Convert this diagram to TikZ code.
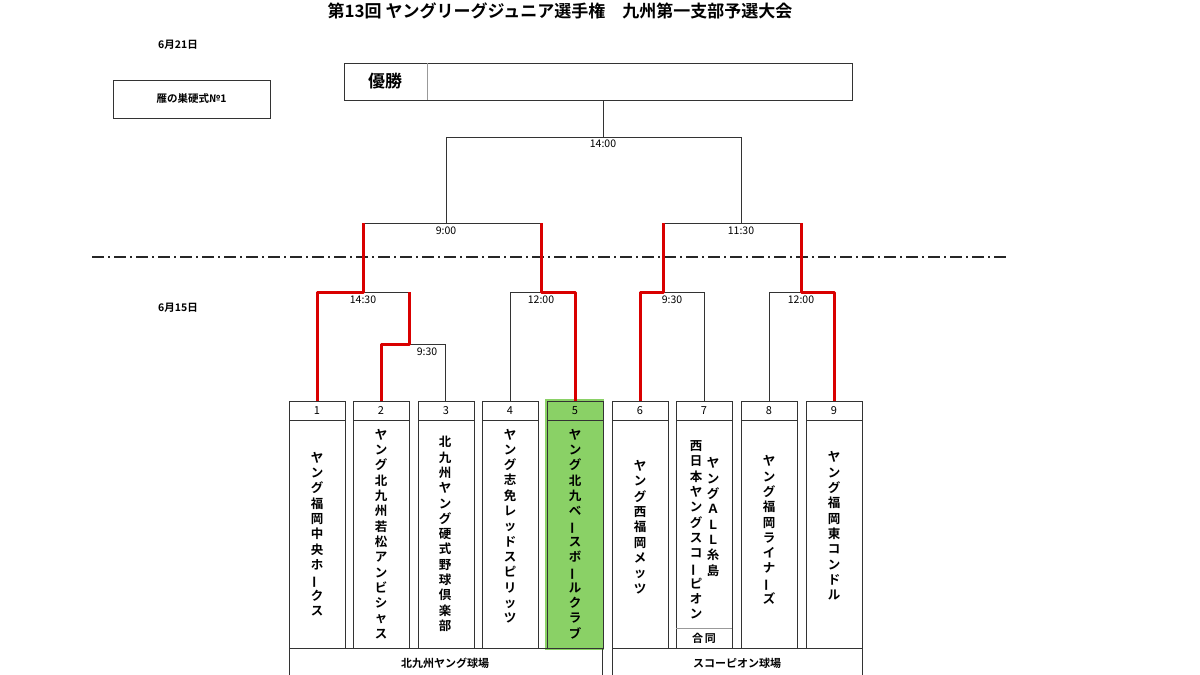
\documentclass[tikz,border=0pt]{standalone}
\usepackage{fontspec}
\usepackage{graphicx}
\setmainfont{Noto Sans CJK JP}
\newfontfamily\jpb{Noto Sans CJK JP Bold}
\newcommand{\vbarx}{\rotatebox[origin=c]{90}{ー}}
\tikzset{
 ln/.style={draw=black!80,line width=0.9pt},
 win/.style={draw=red!85!black,line width=3pt,line join=round},
 vt/.style={align=center,font=\jpb\fontsize{12.5}{15.3}\selectfont,inner sep=0pt},
 tm/.style={font=\fontsize{10.5}{12}\selectfont,inner sep=1pt},
}
\begin{document}
\begin{tikzpicture}[x=1pt,y=-1pt]
\useasboundingbox (0,0) rectangle (1200,675);
\fill[white] (0,0) rectangle (1200,675);
\node[font=\jpb\fontsize{17}{20}\selectfont] (title) at (560,11) {第13回 ヤングリーグジュニア選手権\quad 九州第一支部予選大会};
\node[font=\jpb\fontsize{10.5}{12}\selectfont] (d1) at (178,45) {6月21日};
\node[font=\jpb\fontsize{10.5}{12}\selectfont] (d2) at (178,308) {6月15日};
\draw[ln] (113,80) rectangle (270,118);
\node[font=\jpb\fontsize{10.5}{12}\selectfont] (field) at (191.5,99) {雁の巣硬式№1};
\draw[ln] (344,63) rectangle (852,100);
\draw[black!40,line width=0.6pt] (427,63) -- (427,100);
\node[font=\jpb\fontsize{17}{20}\selectfont] (champ) at (385,81.5) {優勝};
\draw[black!85,line width=1.2pt,dash pattern=on 12pt off 4pt on 2pt off 4pt] (92,257) -- (1008,257);
% green highlight
\fill[green!55!lime!70!black!60!white] (545,399) rectangle (604,650);
% team boxes
\foreach \x/\n in {289/1,353/2,418/3,482/4,547/5,612/6,676/7,741/8,806/9}{
  \draw[ln] (\x,401) rectangle ++(56,19);
  \draw[ln] (\x,420) rectangle ++(56,228);
  \node[font=\fontsize{11}{12}\selectfont] (n\n) at (\x+28,410.5) {\n};
}
\draw[black!40,line width=0.6pt] (676,628) -- (732,628);
\node[font=\jpb\fontsize{11}{12}\selectfont] (gd) at (704,638) {合\,同};
\draw[ln] (289,648) -- (289,675) (602,648) -- (602,675) (289,648) -- (602,648);
\draw[ln] (612,648) -- (612,675) (862,648) -- (862,675) (612,648) -- (862,648);
\node[font=\jpb\fontsize{11}{12}\selectfont] (v1) at (445,663) {北九州ヤング球場};
\node[font=\jpb\fontsize{11}{12}\selectfont] (v2) at (737,663) {スコーピオン球場};
% names
\node[vt] (t1) at (317,534) {ヤ\\ン\\グ\\福\\岡\\中\\央\\ホ\\\vbarx\\ク\\ス};
\node[vt] (t2) at (381,534) {ヤ\\ン\\グ\\北\\九\\州\\若\\松\\ア\\ン\\ビ\\シ\\ャ\\ス};
\node[vt] (t3) at (445,534) {北\\九\\州\\ヤ\\ン\\グ\\硬\\式\\野\\球\\倶\\楽\\部};
\node[vt] (t4) at (510,526) {ヤ\\ン\\グ\\志\\免\\レ\\ッ\\ド\\ス\\ピ\\リ\\ッ\\ツ};
\node[vt] (t5) at (575,534) {ヤ\\ン\\グ\\北\\九\\ベ\\\vbarx\\ス\\ボ\\\vbarx\\ル\\ク\\ラ\\ブ};
\node[vt] (t6) at (640,527) {ヤ\\ン\\グ\\西\\福\\岡\\メ\\ッ\\ツ};
\node[vt] (t7a) at (696,530) {西\\日\\本\\ヤ\\ン\\グ\\ス\\コ\\\vbarx\\ピ\\オ\\ン};
\node[vt] (t7b) at (713,517) {ヤ\\ン\\グ\\Ａ\\Ｌ\\Ｌ\\糸\\島};
\node[vt] (t8) at (769,530) {ヤ\\ン\\グ\\福\\岡\\ラ\\イ\\ナ\\\vbarx\\ズ};
\node[vt] (t9) at (834,526) {ヤ\\ン\\グ\\福\\岡\\東\\コ\\ン\\ド\\ル};
% bracket
\draw[ln] (445,401) -- (445,344) -- (409,344) -- (409,292);
\draw[ln] (381,401) -- (381,344) -- (409,344);
\draw[ln] (317,401) -- (317,292) -- (409,292);
\draw[ln] (510,401) -- (510,292) -- (575,292) -- (575,401);
\draw[ln] (640,401) -- (640,292) -- (704,292) -- (704,401);
\draw[ln] (769,401) -- (769,292) -- (834,292) -- (834,401);
\draw[ln] (363,292) -- (363,223) -- (541,223) -- (541,292);
\draw[ln] (663,292) -- (663,223) -- (801,223) -- (801,292);
\draw[ln] (446,223) -- (446,137) -- (741,137) -- (741,223);
\draw[ln] (603,137) -- (603,100);
\node[tm,fill=white] (m1) at (427,352) {9:30};
\node[tm,fill=white] (m2) at (363,300) {14:30};
\node[tm,fill=white] (m3) at (541,300) {12:00};
\node[tm,fill=white] (m4) at (672,300) {9:30};
\node[tm,fill=white] (m5) at (801,300) {12:00};
\node[tm,fill=white] (m6) at (446,231) {9:00};
\node[tm,fill=white] (m7) at (741,231) {11:30};
\node[tm,fill=white] (m8) at (603,144) {14:00};
% winners
\draw[win] (317,401) -- (317,292) -- (363,292) -- (363,223);
\draw[win] (381,401) -- (381,344) -- (409,344) -- (409,292);
\draw[win] (575,401) -- (575,292) -- (541,292) -- (541,223);
\draw[win] (640,401) -- (640,292) -- (663,292) -- (663,223);
\draw[win] (834,401) -- (834,292) -- (801,292) -- (801,223);
\end{tikzpicture}
\end{document}
